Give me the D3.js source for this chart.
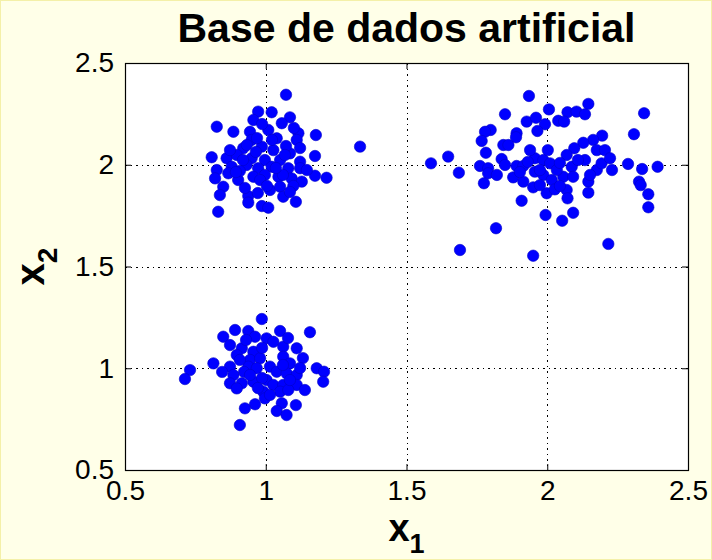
<!DOCTYPE html>
<html>
<head>
<meta charset="utf-8">
<script src="https://cdn.jsdelivr.net/npm/d3@7/dist/d3.min.js"></script>
<style>
  html, body { margin: 0; padding: 0; background: #ffffe8; }
  svg { display: block; }
</style>
</head>
<body>
<script>
// Cluster centred near (1, 2)
const clusterA = [
  [1.072,2.344],[0.973,2.261],[1.021,2.258],[0.956,2.220],[1.086,2.233],[1.057,2.204],
  [0.826,2.187],[0.885,2.162],[0.944,2.162],[1.009,2.171],[1.116,2.155],[1.178,2.146],
  [1.335,2.089],[0.950,2.122],[1.039,2.130],[1.110,2.122],[0.920,2.081],[0.986,2.089],
  [1.027,2.072],[1.086,2.056],[1.175,2.043],[0.808,2.037],[0.861,2.032],[0.897,2.048],
  [0.950,2.032],[0.997,2.023],[1.051,2.023],[1.122,2.015],[0.826,1.974],[0.879,1.990],
  [0.932,1.999],[0.973,1.983],[1.021,1.990],[1.080,1.983],[1.122,1.983],[0.820,1.933],
  [0.867,1.958],[0.956,1.941],[0.997,1.950],[1.045,1.941],[1.092,1.933],[1.175,1.946],
  [1.216,1.936],[0.902,1.925],[0.849,1.892],[0.980,1.925],[1.015,1.876],[1.051,1.892],
  [1.128,1.917],[1.098,1.896],[0.837,1.851],[0.938,1.846],[0.938,1.814],[0.986,1.797],
  [1.009,1.789],[1.062,1.843],[1.107,1.818],[0.831,1.769],[0.965,2.063],[0.919,2.023],
  [1.072,2.092],[1.061,1.950],[1.004,1.896],[0.908,1.969],[1.146,1.974],[0.987,2.200],
  [0.969,2.131],[1.100,2.181],[0.933,2.097],[1.036,1.984],[0.894,1.964],[1.068,2.048],
  [1.122,2.082],[0.926,1.886],[0.972,1.861],[1.086,1.866],[0.873,2.072],[1.022,2.122]
];

// Cluster centred near (2, 2)
const clusterB = [
  [1.935,2.338],[1.850,2.248],[2.006,2.272],[2.146,2.299],[2.344,2.253],[2.072,2.258],
  [2.104,2.261],[2.134,2.248],[1.927,2.212],[1.960,2.231],[1.992,2.199],[1.965,2.166],
  [2.039,2.216],[2.060,2.212],[1.799,2.171],[1.779,2.162],[1.891,2.155],[1.889,2.135],
  [1.767,2.117],[1.844,2.097],[1.862,2.097],[1.782,2.059],[2.308,2.150],[2.195,2.143],
  [2.163,2.122],[2.128,2.108],[2.096,2.081],[2.176,2.072],[2.205,2.072],[2.134,2.023],
  [1.838,2.028],[1.648,2.040],[1.587,2.007],[1.686,1.961],[1.761,1.994],[1.790,1.983],
  [1.790,1.958],[1.850,1.999],[1.891,1.994],[1.915,1.994],[1.956,2.032],[1.986,2.023],
  [2.010,2.007],[1.956,1.966],[1.986,1.950],[2.016,1.925],[2.069,2.048],[2.087,1.990],
  [2.057,1.941],[2.092,1.941],[2.176,1.974],[2.193,2.007],[2.223,2.032],[2.287,2.004],
  [2.337,1.979],[2.392,1.990],[1.879,1.938],[1.915,1.917],[1.950,1.889],[1.998,1.860],
  [2.027,1.879],[2.069,1.876],[2.072,1.835],[2.146,1.917],[2.146,1.863],[1.775,1.909],
  [2.326,1.917],[2.332,1.900],[2.359,1.855],[2.359,1.791],[1.909,1.823],[1.994,1.753],
  [2.053,1.725],[2.092,1.764],[1.818,1.688],[1.690,1.581],[1.950,1.553],[2.217,1.611],
  [1.974,1.974],[2.034,1.974],[1.931,2.014],[2.045,1.896],[1.939,2.072],[2.002,2.072],
  [1.903,1.964],[2.045,2.009],[2.109,2.023],[1.974,1.900],[2.152,1.950],[2.230,1.974],
  [1.821,1.950]
];

// Cluster centred near (1, 1)
const clusterC = [
  [0.986,1.242],[0.891,1.188],[0.938,1.183],[1.051,1.183],[1.157,1.177],[0.849,1.155],
  [0.962,1.155],[1.003,1.147],[1.027,1.130],[0.873,1.114],[0.915,1.098],[0.956,1.081],
  [1.062,1.106],[1.110,1.098],[0.897,1.065],[0.944,1.041],[0.980,1.049],[1.062,1.057],
  [1.086,1.024],[0.814,1.024],[0.731,0.991],[0.713,0.947],[0.873,1.008],[0.885,0.967],
  [0.938,1.008],[0.968,1.000],[1.015,1.008],[1.039,0.983],[1.074,0.975],[1.110,0.967],
  [1.181,1.000],[1.207,0.983],[1.204,0.934],[0.873,0.926],[0.915,0.926],[0.956,0.934],
  [1.003,0.942],[1.027,0.918],[1.062,0.918],[1.110,0.918],[0.897,0.901],[0.991,0.885],
  [1.051,0.885],[1.080,0.893],[0.997,0.852],[0.962,0.823],[0.926,0.803],[1.057,0.828],
  [1.107,0.819],[1.039,0.790],[1.074,0.770],[0.908,0.721],[0.987,1.100],[0.987,0.952],
  [1.086,0.942],[0.923,0.982],[1.132,1.050],[0.930,1.139],[1.079,1.149],[0.908,1.041],
  [0.944,0.967],[1.061,1.016],[1.122,1.001],[0.972,0.903],[1.015,0.869],[1.139,0.893],
  [0.845,0.982]
];

const tickValues = [0.5, 1, 1.5, 2, 2.5];
const tickLabels = ["0.5", "1", "1.5", "2", "2.5"];
const gridValues = [1, 1.5, 2];
const titleText = "Base de dados artificial";

const W = 712, H = 560;
const plot = { left: 125, right: 688, top: 63, bottom: 470 };
const FONT = "'Liberation Sans', Arial, Helvetica, sans-serif";

const svg = d3.select("body").append("svg").attr("width", W).attr("height", H);

svg.append("rect").attr("x", 0.5).attr("y", 0.5).attr("width", W - 1).attr("height", H - 1)
  .attr("fill", "#ffffe8").attr("stroke", "#f4f0a8").attr("stroke-width", 1);

const x = d3.scaleLinear().domain([0.5, 2.5]).range([plot.left, plot.right]);
const y = d3.scaleLinear().domain([0.5, 2.5]).range([plot.bottom, plot.top]);

// white axes area
svg.append("rect")
  .attr("x", plot.left).attr("y", plot.top)
  .attr("width", plot.right - plot.left).attr("height", plot.bottom - plot.top)
  .attr("fill", "#ffffff");

// dotted grid
const grid = svg.append("g").attr("stroke", "#000").attr("stroke-width", 1)
  .attr("stroke-dasharray", "1.5,4").attr("shape-rendering", "crispEdges");
grid.selectAll("line.gx").data(gridValues).join("line").attr("class", "gx")
  .attr("x1", d => Math.round(x(d)) + 0.5).attr("x2", d => Math.round(x(d)) + 0.5)
  .attr("y1", plot.top).attr("y2", plot.bottom);
grid.selectAll("line.gy").data(gridValues).join("line").attr("class", "gy")
  .attr("y1", d => Math.round(y(d)) + 0.5).attr("y2", d => Math.round(y(d)) + 0.5)
  .attr("x1", plot.left).attr("x2", plot.right);

// points
const allPoints = clusterA.concat(clusterB, clusterC);
svg.append("g").selectAll("circle").data(allPoints).join("circle")
  .attr("cx", d => x(d[0])).attr("cy", d => y(d[1])).attr("r", 5.7)
  .attr("fill", "#0000ff").attr("stroke", "#0000c8").attr("stroke-width", 0.6);

// axes with inward ticks
const fmt = d => tickLabels[tickValues.indexOf(d)];
const tickSize = 6;
function styleAxis(g) {
  g.select(".domain").remove();
  g.selectAll("text").attr("font-family", FONT).attr("font-size", 28).attr("fill", "#000");
  g.selectAll("line").attr("stroke", "#000");
}
svg.append("g").attr("transform", `translate(0,${plot.bottom})`)
  .call(d3.axisBottom(x).tickValues(tickValues).tickFormat(fmt).tickSizeInner(-tickSize).tickSizeOuter(0).tickPadding(10))
  .call(styleAxis);
svg.append("g").attr("transform", `translate(0,${plot.top})`)
  .call(d3.axisTop(x).tickValues(tickValues).tickFormat(() => "").tickSizeInner(-tickSize).tickSizeOuter(0))
  .call(styleAxis);
svg.append("g").attr("transform", `translate(${plot.left},0)`)
  .call(d3.axisLeft(y).tickValues(tickValues).tickFormat(fmt).tickSizeInner(-tickSize).tickSizeOuter(0).tickPadding(11))
  .call(styleAxis);
svg.append("g").attr("transform", `translate(${plot.right},0)`)
  .call(d3.axisRight(y).tickValues(tickValues).tickFormat(() => "").tickSizeInner(-tickSize).tickSizeOuter(0))
  .call(styleAxis);

// frame
svg.append("rect")
  .attr("x", plot.left + 0.5).attr("y", plot.top + 0.5)
  .attr("width", plot.right - plot.left).attr("height", plot.bottom - plot.top)
  .attr("fill", "none").attr("stroke", "#000").attr("stroke-width", 1.2);

// title
svg.append("text")
  .attr("x", (plot.left + plot.right) / 2).attr("y", 42)
  .attr("text-anchor", "middle").attr("font-family", FONT)
  .attr("font-weight", "bold").attr("font-size", 41).attr("fill", "#000")
  .text(titleText);

// x-axis label: x with subscript 1
const xl = svg.append("text")
  .attr("x", (plot.left + plot.right) / 2).attr("y", 541)
  .attr("text-anchor", "middle").attr("font-family", FONT)
  .attr("font-weight", "bold").attr("font-size", 38).attr("fill", "#000");
xl.append("tspan").text("x");
xl.append("tspan").attr("font-size", 27).attr("dy", 12).text("1");

// y-axis label: x with subscript 2
const yl = svg.append("text")
  .attr("transform", `translate(44,${(plot.top + plot.bottom) / 2}) rotate(-90)`)
  .attr("text-anchor", "middle").attr("font-family", FONT)
  .attr("font-weight", "bold").attr("font-size", 40).attr("fill", "#000");
yl.append("tspan").text("x");
yl.append("tspan").attr("font-size", 28).attr("dy", 13).text("2");
</script>
</body>
</html>
